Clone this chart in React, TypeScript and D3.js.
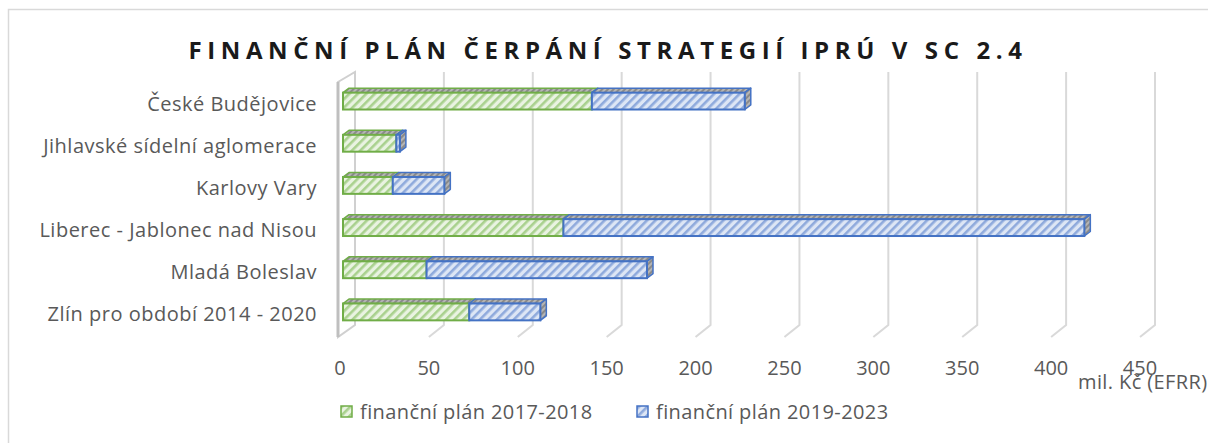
import React from 'react';
import * as d3 from 'd3';

const categories = [
    'České Budějovice',
    'Jihlavské sídelní aglomerace',
    'Karlovy Vary',
    'Liberec - Jablonec nad Nisou',
    'Mladá Boleslav',
    'Zlín pro období 2014 - 2020',
];
const plan2017 = [140, 30, 28, 124, 47, 71];
const plan2019 = [86, 2, 29, 293, 124, 40];
const seriesNames = ['finanční plán 2017-2018', 'finanční plán 2019-2023'];
const xTicks = [0, 50, 100, 150, 200, 250, 300, 350, 400, 450];

const W = 1208;
const H = 443;
const FONT = '"Open Sans", Lato, sans-serif';

// 3D offsets
const wallDx = 12;
const barDx = 6, barDy = -4.5;

const seriesStyle = [
    { id: 'pg', stroke: '#70ad47', bg: '#e9f3e1', stripe: '#a9d18e' },
    { id: 'pb', stroke: '#4472c4', bg: '#dde6f5', stripe: '#8faadc' },
];

const App = () => {
    const x = d3.scaleLinear().domain([0, 450]).range([343, 1143]);
    const y = d3.scaleBand<string>().domain(categories).range([80, 333]).paddingInner(0.6).paddingOuter(0.3);
    const bh = y.bandwidth();

    const stacked = d3.stack<any>().keys(['a', 'b'])(
        categories.map((c, i) => ({ cat: c, a: plan2017[i], b: plan2019[i] }))
    );

    const wallTop = 72, wallBot = 325;
    const wx0 = x(0) + wallDx;

    return (
        <svg width={W} height={H} style={{ position: 'absolute', left: 0, top: 0, background: '#fff' }}>
            <defs>
                {seriesStyle.map(s => (
                    <pattern key={s.id} id={s.id} width={6} height={6} patternUnits="userSpaceOnUse" patternTransform="rotate(45)">
                        <rect width={6} height={6} fill={s.bg} />
                        <rect width={2.6} height={6} fill={s.stripe} />
                    </pattern>
                ))}
                <pattern id="ptop" width={4} height={4} patternUnits="userSpaceOnUse" patternTransform="rotate(45)">
                    <rect width={4} height={4} fill="#b5b5b5" />
                    <rect width={2} height={4} fill="#8a8a8a" />
                </pattern>
            </defs>

            {/* outer frame */}
            <rect x={8.5} y={9.5} width={1300} height={600} fill="none" stroke="#d9d9d9" strokeWidth={1.5} />

            {/* title */}
            <text x={608} y={59} textAnchor="middle" fontFamily={FONT} fontWeight="bold" fontSize={24}
                letterSpacing={5.6} fill="#1a1a1a">
                FINANČNÍ PLÁN ČERPÁNÍ STRATEGIÍ IPRÚ V SC 2.4
            </text>

            {/* gridlines on back wall + floor edges */}
            {xTicks.filter(t => t > 0).map(t => {
                const bx = x(t) + wallDx;
                return (
                    <path key={t} d={`M${bx},${wallTop}V${wallBot}L${bx - 15},${wallBot + 12}`}
                        fill="none" stroke="#d9d9d9" strokeWidth={2} />
                );
            })}

            {/* left side wall */}
            <path d={`M${wx0},${wallTop}V${wallBot}L${wx0 - 17},${wallBot + 12}V${wallTop + 10}Z`}
                fill="none" stroke="#d0d0d0" strokeWidth={2} />
            <path d={`M${wx0 - 17},${wallTop + 10}V${wallBot + 12}`} stroke="#bfbfbf" strokeWidth={3} />

            {/* bars */}
            {categories.map((c, ci) => {
                const yy = y(c)!;
                return (
                    <g key={c}>
                        {stacked.map((s, si) => {
                            const d = s[ci];
                            const x0 = x(d[0]), x1 = x(d[1]);
                            const st = seriesStyle[si];
                            const isLast = si === stacked.length - 1;
                            return (
                                <g key={si}>
                                    <path d={`M${x0},${yy}L${x0 + barDx},${yy + barDy}L${x1 + barDx},${yy + barDy}L${x1},${yy}Z`}
                                        fill="url(#ptop)" stroke={st.stroke} strokeWidth={1.5} strokeLinejoin="round" />
                                    {isLast && (
                                        <path d={`M${x1},${yy}L${x1 + barDx},${yy + barDy}L${x1 + barDx},${yy + bh + barDy}L${x1},${yy + bh}Z`}
                                            fill="url(#ptop)" stroke={st.stroke} strokeWidth={1.5} strokeLinejoin="round" />
                                    )}
                                    <rect x={x0} y={yy} width={x1 - x0} height={bh}
                                        fill={`url(#${st.id})`} stroke={st.stroke} strokeWidth={2} />
                                </g>
                            );
                        })}
                    </g>
                );
            })}

            {/* category labels */}
            {categories.map(c => (
                <text key={c} x={317} y={y(c)! + bh / 2 + 9.5} textAnchor="end" fontFamily={FONT}
                    fontSize={20} letterSpacing={0.5} fill="#595959">{c}</text>
            ))}

            {/* x tick labels */}
            {xTicks.map(t => (
                <text key={t} x={x(t) - 3} y={375} textAnchor="middle" fontFamily={FONT} fontSize={20} fill="#595959">{t}</text>
            ))}
            <text x={1078} y={389} fontFamily={FONT} fontSize={20} letterSpacing={0.4} fill="#595959">mil. Kč (EFRR)</text>

            {/* legend */}
            {seriesNames.map((n, i) => {
                const lx = i === 0 ? 341 : 637;
                const st = seriesStyle[i];
                return (
                    <g key={n}>
                        <rect x={lx} y={406} width={11} height={11} fill={`url(#${st.id})`} stroke={st.stroke} strokeWidth={1.5} />
                        <text x={lx + 19} y={419} fontFamily={FONT} fontSize={20} letterSpacing={0.4} fill="#595959">{n}</text>
                    </g>
                );
            })}
        </svg>
    );
};

export default App;
